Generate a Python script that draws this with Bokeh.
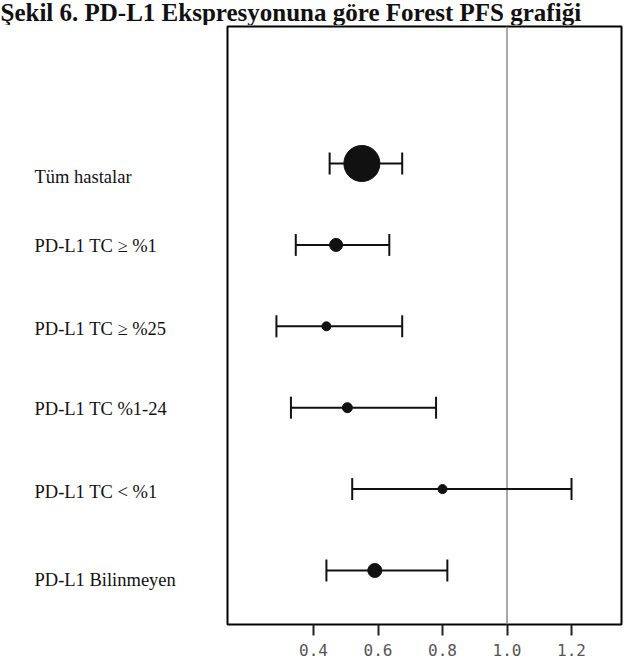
from bokeh.plotting import figure
from bokeh.models import ColumnDataSource, Range1d, Span, Whisker, TeeHead, FixedTicker
from bokeh.layouts import column, row
from bokeh.core.properties import value
from bokeh.embed import file_html
from bokeh.resources import INLINE

# ---- data ----
subgroups = ["Tüm hastalar", "PD-L1 TC  ≥ %1", "PD-L1 TC ≥ %25", "PD-L1 TC %1-24",
             "PD-L1 TC < %1", "PD-L1 Bilinmeyen"]
row_pos = [6, 5, 4, 3, 2, 1]
hazard_ratio = [0.55, 0.47, 0.44, 0.505, 0.80, 0.59]
ci_lower = [0.45, 0.345, 0.285, 0.33, 0.52, 0.44]
ci_upper = [0.675, 0.635, 0.675, 0.78, 1.20, 0.815]
label_y = [5.83, 4.99, 3.97, 2.98, 1.96, 0.88]
tick_values = [0.4, 0.6, 0.8, 1.0, 1.2]
tick_labels = ["0.4", "0.6", "0.8", "1.0", "1.2"]
title_text = "Şekil 6. PD-L1 Ekspresyonuna göre Forest PFS grafiği"

# ---- styles ----
point_size = [36, 13, 9, 10, 9, 14]
INK = "#111111"
SERIF = "Liberation Serif"

TOTAL_W = 623
TITLE_H = 25
LABEL_W = 225
MAIN_W = TOTAL_W - LABEL_W
MAIN_H = 637
TOP_B, BOT_B = 1, 38

y_rng = Range1d(0.3366, 7.683)

# ---- title strip ----
pt = figure(width=TOTAL_W, height=TITLE_H, output_backend="svg", toolbar_location=None,
            x_range=Range1d(0, TOTAL_W), y_range=Range1d(0, TITLE_H),
            x_axis_location=None, y_axis_location=None,
            min_border=0, background_fill_color="white", border_fill_color="white")
pt.grid.visible = False
pt.outline_line_color = None
pt.text(x=0, y=TITLE_H + 2, text=[title_text], text_font=value(SERIF),
        text_font_style="bold", text_font_size=value("25px"), text_color="#111111",
        text_align="left", text_baseline="top")

# ---- subgroup labels ----
pl = figure(width=LABEL_W, height=MAIN_H, output_backend="svg", toolbar_location=None,
            x_range=Range1d(0, LABEL_W), y_range=y_rng,
            x_axis_location=None, y_axis_location=None,
            min_border_left=0, min_border_right=0, min_border_top=TOP_B,
            min_border_bottom=BOT_B,
            background_fill_color="white", border_fill_color="white")
pl.grid.visible = False
pl.outline_line_color = None
lab_src = ColumnDataSource(dict(y=label_y, name=subgroups))
pl.text(x=34, y="y", text="name", source=lab_src, text_font=value(SERIF),
        text_font_size=value("18.5px"), text_color="#111111",
        text_align="left", text_baseline="middle")

# ---- forest plot ----
source = ColumnDataSource(dict(y=row_pos, hr=hazard_ratio, lo=ci_lower, hi=ci_upper,
                               size=point_size))

p = figure(width=MAIN_W, height=MAIN_H, output_backend="svg", toolbar_location=None,
           x_range=Range1d(0.1333, 1.355), y_range=y_rng, y_axis_location=None,
           min_border_left=2, min_border_right=2, min_border_top=TOP_B,
           min_border_bottom=BOT_B,
           background_fill_color="white", border_fill_color="white")

p.outline_line_color = "black"
p.outline_line_width = 2
p.xgrid.visible = False
p.ygrid.visible = False

ax = p.xaxis[0]
ax.ticker = FixedTicker(ticks=tick_values, minor_ticks=[])
ax.major_label_overrides = {v: t for v, t in zip(tick_values, tick_labels)}
ax.axis_line_color = None
ax.major_tick_in = 0
ax.major_tick_out = 11
ax.major_tick_line_width = 2
ax.major_tick_line_color = "#222222"
ax.minor_tick_line_color = None
ax.major_label_standoff = 8
ax.major_label_text_font = "DejaVu Sans Mono"
ax.major_label_text_font_size = "16px"
ax.major_label_text_color = "#555555"

ref = Span(location=1.0, dimension="height", line_color="#8c8c8c", line_width=1.5,
           level="underlay")
p.add_layout(ref)

wh = Whisker(source=source, base="y", lower="lo", upper="hi", dimension="width",
             line_color=INK, line_width=2,
             lower_head=TeeHead(size=22, line_color=INK, line_width=2),
             upper_head=TeeHead(size=22, line_color=INK, line_width=2))
p.add_layout(wh)

p.scatter(x="hr", y="y", size="size", source=source, marker="circle",
          fill_color=INK, line_color=INK)

layout = column(pt, row(pl, p, spacing=0), spacing=0)

open("out.html", "w").write(file_html(layout, INLINE))
